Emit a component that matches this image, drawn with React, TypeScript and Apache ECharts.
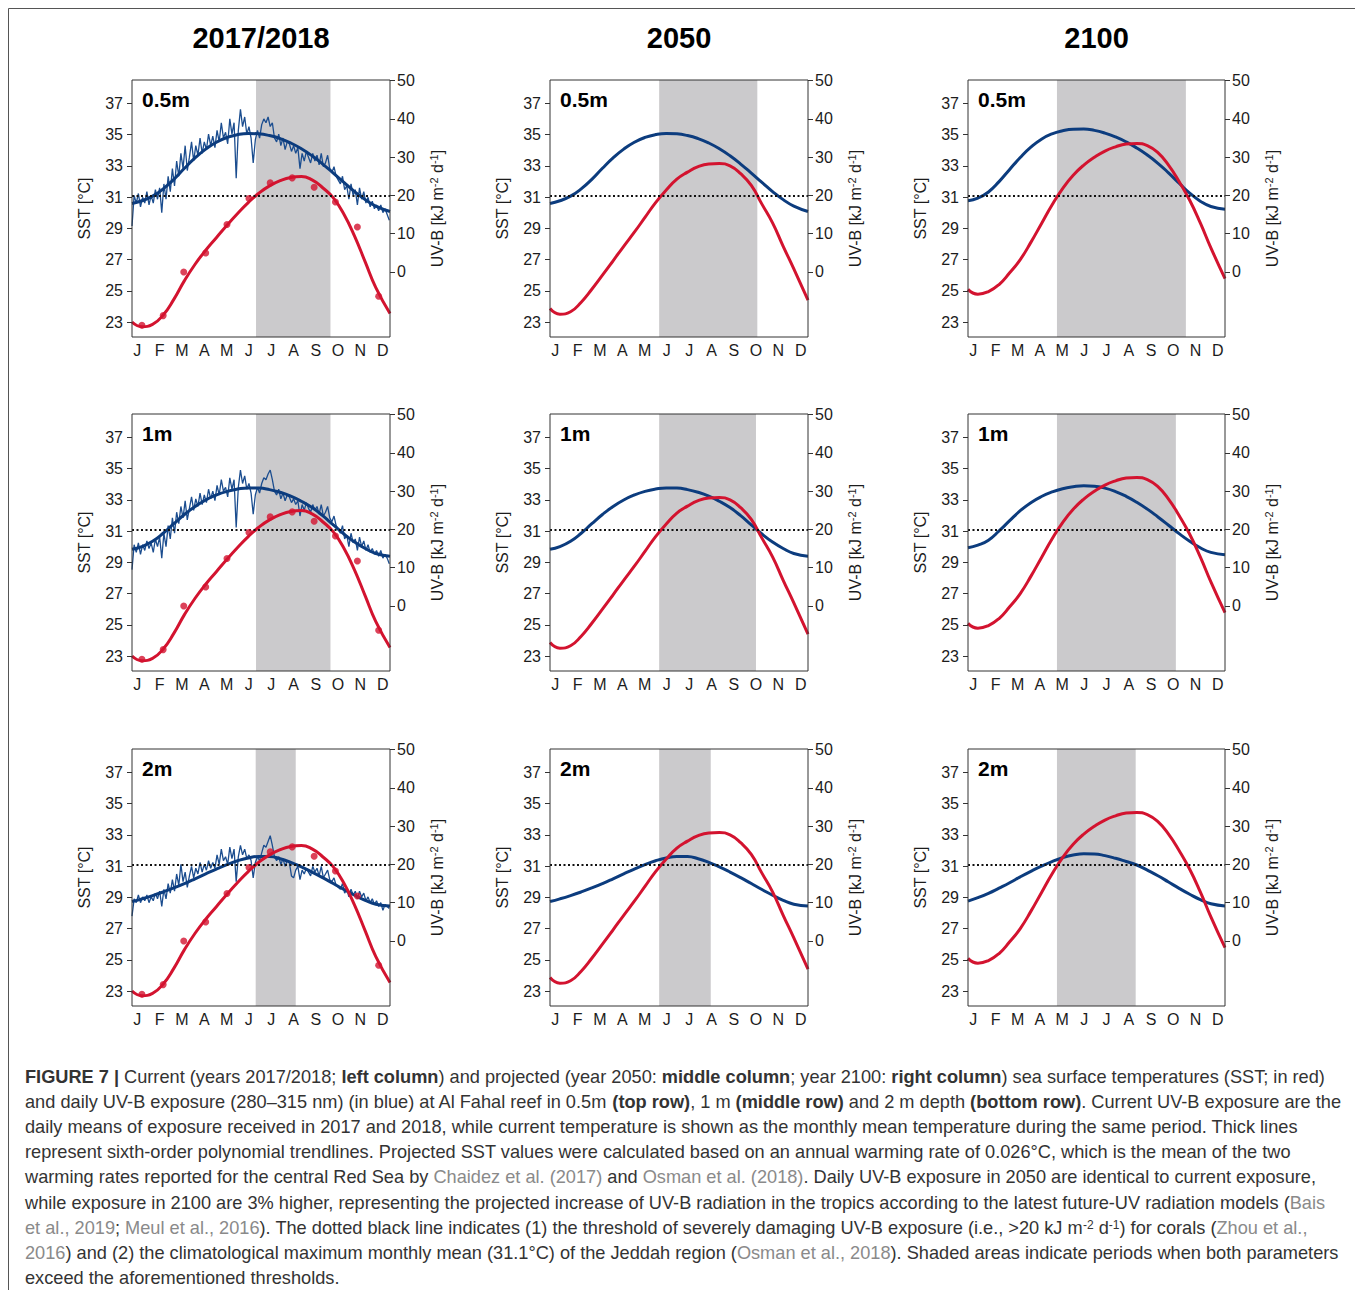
import React, { useEffect, useRef } from 'react';
import * as echarts from 'echarts';

const FONT = '"Liberation Sans", Arial, Helvetica, sans-serif';

// ---------- axes / labels ----------
const MONTH_LABELS = ['J', 'F', 'M', 'A', 'M', 'J', 'J', 'A', 'S', 'O', 'N', 'D'];
const MONTH_TICK_DAYS = [8.5, 40, 71.4, 102.9, 134.4, 165.8, 197.3, 228.8, 260.3, 291.7, 323.2, 354.7];
const SST_TICKS = [23, 25, 27, 29, 31, 33, 35, 37];
const UVB_TICKS = [0, 10, 20, 30, 40, 50];
const SST_THRESHOLD = 31.1;
const COLUMN_TITLES = ['2017/2018', '2050', '2100'];
const DEPTHS = ['0.5m', '1m', '2m'];

// ---------- current monthly mean SST (red dots) ----------
const MONTH_MID_DAYS = [15, 45, 74, 105, 135, 166, 196, 227, 258, 288, 319, 349];
const SST_MONTHLY_MEAN = [22.79, 23.41, 26.2, 27.42, 29.24, 30.91, 31.91, 32.23, 31.63, 30.69, 29.09, 24.65];

// ---------- trendline sample days ----------
const CURVE_DAYS = [1, 15, 30, 45, 60, 75, 90, 105, 120, 135, 150, 165, 180, 195, 210, 225, 240, 255, 270, 285, 300, 315, 330, 345, 365];

// ---------- SST trendlines (red) ----------
const SST_CURRENT = [23.0, 22.7, 22.85, 23.45, 24.45, 25.65, 26.7, 27.6, 28.4, 29.2, 29.95, 30.65, 31.25, 31.72, 32.05, 32.26, 32.32, 32.1, 31.6, 30.95, 29.9, 28.5, 26.85, 25.2, 23.55];
const SST_2050 = [23.86, 23.5, 23.66, 24.27, 25.1, 26.0, 26.92, 27.85, 28.75, 29.7, 30.65, 31.45, 32.15, 32.6, 32.95, 33.12, 33.15, 33.0, 32.5, 31.75, 30.55, 29.35, 27.85, 26.4, 24.4];
const SST_2100 = [25.09, 24.78, 24.95, 25.4, 26.15, 27.0, 28.1, 29.3, 30.5, 31.55, 32.4, 33.05, 33.55, 33.95, 34.22, 34.4, 34.44, 34.3, 33.85, 33.05, 32.0, 30.8, 29.35, 27.75, 25.78];

// ---------- UV-B trendlines (blue); 2050 exposure = current ----------
const UV_CUR_05 = [17.9, 18.6, 19.8, 21.7, 24.2, 27.1, 29.8, 32.1, 33.9, 35.15, 35.9, 36.2, 36.1, 35.65, 34.85, 33.7, 32.2, 30.35, 28.2, 25.85, 23.4, 21.0, 18.9, 17.2, 15.8];
const UV_CUR_1 = [14.8, 15.5, 16.9, 19.0, 21.5, 23.9, 26.0, 27.7, 29.0, 29.95, 30.55, 30.85, 30.8, 30.4, 29.7, 28.7, 27.35, 25.7, 23.6, 21.2, 18.8, 16.7, 15.0, 13.7, 13.0];
const UV_CUR_2 = [10.3, 11.0, 11.85, 12.8, 13.85, 15.0, 16.25, 17.55, 18.8, 19.95, 20.95, 21.7, 22.1, 22.05, 21.5, 20.55, 19.35, 18.0, 16.55, 15.0, 13.45, 11.95, 10.6, 9.6, 9.1];
const UV_2100_05 = [18.6, 19.3, 20.9, 23.6, 26.8, 29.9, 32.6, 34.7, 36.1, 36.9, 37.3, 37.35, 37.0, 36.3, 35.3, 34.0, 32.4, 30.55, 28.4, 25.9, 23.2, 20.6, 18.5, 17.1, 16.4];
const UV_2100_1 = [15.2, 15.9, 17.2, 19.6, 22.3, 24.9, 27.0, 28.6, 29.8, 30.65, 31.15, 31.4, 31.3, 30.8, 29.9, 28.65, 27.1, 25.3, 23.25, 21.1, 18.9, 16.9, 15.2, 14.0, 13.4];
const UV_2100_2 = [10.4, 11.3, 12.45, 13.8, 15.2, 16.75, 18.2, 19.55, 20.75, 21.75, 22.45, 22.8, 22.75, 22.3, 21.6, 20.75, 19.85, 18.5, 17.05, 15.4, 13.75, 12.2, 10.8, 9.7, 9.15];

// ---------- daily UV-B 2017/2018 (every 3rd day: day 1, 4, 7 ... 364) ----------
const UV_DAILY_05 = [
  12, 20, 18, 20.5, 17, 19.5, 18, 21, 17.5, 20,
  18, 21.5, 19, 22, 15.5, 23, 19, 25, 21, 27,
  22.5, 29, 25, 31, 27, 33, 26.5, 30, 34, 29,
  33, 30.5, 35, 31, 34, 32, 36, 33, 35.5, 32.5,
  37, 34, 39, 35, 36.5, 33.5, 40, 36, 39, 24.5,
  37, 42.5, 38, 40.5, 36, 38, 35, 28.5, 34.5, 37,
  35, 38.5, 40, 39, 40.5, 38, 39, 35, 34, 36,
  33, 35, 32, 34, 33.5, 31.5, 33, 31, 32.5, 27,
  31, 29, 31.5, 30, 28.5, 31, 29, 30.5, 28, 31,
  27.5, 28.5, 30.5, 27, 26, 27.5, 25, 24, 23, 25,
  21.5, 22.5, 19, 23, 20, 21.5, 17.5, 22, 19, 21,
  18, 19.5, 17, 18.5, 16.5, 17.5, 16, 17.5, 15.5, 16.5,
  15, 13.5,
];
const UV_DAILY_1 = [
  9.5, 16, 14, 16.5, 13.5, 16, 14.5, 17, 15, 16.5,
  14, 17.5, 15.5, 18, 12.5, 19, 15.5, 21, 17.5, 23,
  19, 24.5, 21.5, 26, 23, 27.5, 22.5, 25.5, 28.5, 25,
  28, 26, 29.5, 26.5, 29, 27, 30.5, 28, 30, 27.5,
  31.5, 29, 33, 30, 31, 28.5, 33.5, 30.5, 33, 20.5,
  31, 35.5, 32, 34, 30.5, 32, 29.5, 24, 29, 31,
  29.5, 32, 33.5, 33, 34.5, 35.5, 33, 30, 29, 30.5,
  28, 29.5, 27.5, 29, 28.5, 27, 28, 26.5, 27.5, 23.5,
  26.5, 25, 27, 25.5, 24.5, 26.5, 25, 26, 24, 26.5,
  23.5, 24.5, 26, 23, 22, 23.5, 21, 20, 19, 21,
  17.5, 18.5, 15.5, 19, 16.5, 17.5, 14.5, 18, 15.5, 17,
  14.5, 16, 14, 15, 13.5, 14.5, 13, 14.5, 12.5, 13.5,
  12.5, 11,
];
const UV_DAILY_2 = [
  6.5, 11, 10, 12, 10, 11.5, 10.5, 12, 10, 11.5,
  10.5, 12.5, 11, 13, 9, 13.5, 11, 15, 12.5, 16,
  13, 17.5, 14.5, 20, 15.5, 18, 14, 17, 19.5, 16.5,
  19, 17.5, 20.5, 18, 20, 18.5, 21, 19, 20.5, 19,
  22.5, 20, 24, 21, 22, 20, 24.5, 21.5, 24, 15.5,
  22, 25, 22.5, 24, 21.5, 22.5, 21, 16.5, 20.5, 22,
  21, 23, 25, 24.5, 26, 27.5, 25, 22, 21, 22,
  20, 21.5, 19.5, 21, 20.5, 17, 16.5, 18.5, 19.5, 16,
  18.5, 17.5, 19, 18, 17, 19.5, 18, 19, 17, 19.5,
  16.5, 17.5, 18.5, 16, 15.5, 16.5, 14.5, 14, 13.5, 15,
  12.5, 13.5, 11.5, 13.5, 12, 13, 11, 13, 11.5, 12.5,
  10.5, 11.5, 10, 11, 9.5, 10.5, 9, 10, 8, 9.5,
  9, 8.5,
];

// ---------- shaded periods (day of year) per column, per depth ----------
const SHADE_CURRENT = [[176, 281], [176, 281], [175.5, 232]];
const SHADE_2050 = [[155, 293.5], [155, 291.6], [155, 227.8]];
const SHADE_2100 = [[127, 309.6], [127, 295.4], [127, 238.5]];

// ---------- caption ----------
const CAPTION_LINES = [
  '{b|FIGURE 7 |} Current (years 2017/2018; {b|left column}) and projected (year 2050: {b|middle column}; year 2100: {b|right column}) sea surface temperatures (SST; in red)',
  'and daily UV-B exposure (280–315 nm) (in blue) at Al Fahal reef in 0.5m {b|(top row)}, 1 m {b|(middle row)} and 2 m depth {b|(bottom row)}. Current UV-B exposure are the',
  'daily means of exposure received in 2017 and 2018, while current temperature is shown as the monthly mean temperature during the same period. Thick lines',
  'represent sixth-order polynomial trendlines. Projected SST values were calculated based on an annual warming rate of 0.026°C, which is the mean of the two',
  'warming rates reported for the central Red Sea by {g|Chaidez et al. (2017)} and {g|Osman et al. (2018)}. Daily UV-B exposure in 2050 are identical to current exposure,',
  'while exposure in 2100 are 3% higher, representing the projected increase of UV-B radiation in the tropics according to the latest future-UV radiation models ({g|Bais}',
  '{g|et al., 2019}; {g|Meul et al., 2016}). The dotted black line indicates (1) the threshold of severely damaging UV-B exposure (i.e., >20 kJ m{sup|-2} d{sup|-1}) for corals ({g|Zhou et al.,}',
  '{g|2016}) and (2) the climatological maximum monthly mean (31.1°C) of the Jeddah region ({g|Osman et al., 2018}). Shaded areas indicate periods when both parameters',
  'exceed the aforementioned thresholds.',
];

// ---------- layout ----------
const COL_LEFT = [132, 550, 968];
const COL_W = [258, 258, 257];
const ROW_TOP = [80, 414, 749];
const PANEL_H = 257;
const SST_MIN = 22.04;
const SST_MAX = 38.5;
const UV_MIN = -17.01;
const UV_MAX = 50.17;
const CAPTION_SIZE = 18.2;

const RED = '#d3132f';
const BLUE = '#0c3c7e';
const BLUE_DAILY = '#1b4d8f';
const SHADE = '#cbcacc';
const INK = '#1c1c1c';

const pairs = (xs: number[], ys: number[]) => xs.map((x, i) => [x, ys[i]]);
const DAILY_DAYS = UV_DAILY_05.map((_, i) => 1 + 3 * i);

function buildOption() {
  const grid: any[] = [];
  const xAxis: any[] = [];
  const yAxis: any[] = [];
  const series: any[] = [];
  const graphic: any[] = [];

  const redByCol = [SST_CURRENT, SST_2050, SST_2100];
  const blueByCol = [
    [UV_CUR_05, UV_CUR_1, UV_CUR_2],
    [UV_CUR_05, UV_CUR_1, UV_CUR_2],
    [UV_2100_05, UV_2100_1, UV_2100_2],
  ];
  const dailyByRow = [UV_DAILY_05, UV_DAILY_1, UV_DAILY_2];
  const shadeByCol = [SHADE_CURRENT, SHADE_2050, SHADE_2100];

  for (let r = 0; r < 3; r++) {
    for (let c = 0; c < 3; c++) {
      const g = r * 3 + c;
      grid.push({ left: COL_LEFT[c], top: ROW_TOP[r], width: COL_W[c], height: PANEL_H });
      xAxis.push({
        gridIndex: g,
        type: 'value',
        min: 1,
        max: 365,
        axisLine: { show: false },
        axisTick: { show: false },
        splitLine: { show: false },
        axisLabel: {
          customValues: MONTH_TICK_DAYS,
          formatter: (v: number) => {
            const i = MONTH_TICK_DAYS.findIndex((d) => Math.abs(d - v) < 0.01);
            return i >= 0 ? MONTH_LABELS[i] : '';
          },
          margin: 5,
          fontSize: 16,
          color: INK,
          fontFamily: FONT,
        },
      });
      yAxis.push({
        gridIndex: g,
        type: 'value',
        position: 'left',
        min: SST_MIN,
        max: SST_MAX,
        name: 'SST [°C]',
        nameLocation: 'middle',
        nameRotate: 90,
        nameGap: 40,
        nameTextStyle: { fontSize: 16, color: INK, fontFamily: FONT },
        axisLine: { show: false },
        splitLine: { show: false },
        axisTick: { show: true, length: 5, customValues: SST_TICKS, lineStyle: { color: '#333', width: 1 } },
        axisLabel: { customValues: SST_TICKS, margin: 9, fontSize: 16, color: INK, fontFamily: FONT },
      });
      yAxis.push({
        gridIndex: g,
        type: 'value',
        position: 'right',
        min: UV_MIN,
        max: UV_MAX,
        name: '{n|UV-B [kJ m}{s|-2}{n| d}{s|-1}{n|]}',
        nameLocation: 'middle',
        nameRotate: 90,
        nameGap: 38,
        nameTextStyle: {
          fontSize: 16,
          color: INK,
          fontFamily: FONT,
          rich: {
            n: { fontSize: 16, color: INK, fontFamily: FONT, lineHeight: 18 },
            s: { fontSize: 11, color: INK, fontFamily: FONT, verticalAlign: 'top', lineHeight: 18 },
          },
        },
        axisLine: { show: false },
        splitLine: { show: false },
        axisTick: { show: true, length: 5, customValues: UVB_TICKS, lineStyle: { color: '#333', width: 1 } },
        axisLabel: { customValues: UVB_TICKS, margin: 7, fontSize: 16, color: INK, fontFamily: FONT },
      });

      const shade = shadeByCol[c][r];
      const markArea = {
        silent: true,
        itemStyle: { color: SHADE },
        data: [[{ xAxis: shade[0] }, { xAxis: shade[1] }]],
      };

      if (c === 0) {
        series.push({
          type: 'line',
          xAxisIndex: g,
          yAxisIndex: 2 * g + 1,
          data: pairs(DAILY_DAYS, dailyByRow[r]),
          showSymbol: false,
          silent: true,
          lineStyle: { width: 1.3, color: BLUE_DAILY },
          markArea,
        });
      }
      series.push({
        type: 'line',
        xAxisIndex: g,
        yAxisIndex: 2 * g + 1,
        data: pairs(CURVE_DAYS, blueByCol[c][r]),
        smooth: 0.5,
        showSymbol: false,
        silent: true,
        lineStyle: { width: 3, color: BLUE },
        ...(c === 0 ? {} : { markArea }),
      });
      series.push({
        type: 'line',
        xAxisIndex: g,
        yAxisIndex: 2 * g,
        data: pairs(CURVE_DAYS, redByCol[c]),
        smooth: 0.5,
        showSymbol: false,
        silent: true,
        lineStyle: { width: 3, color: RED },
        markLine: {
          silent: true,
          symbol: ['none', 'none'],
          label: { show: false },
          lineStyle: { type: [2, 2.5], color: '#111', width: 1.8 },
          data: [{ yAxis: SST_THRESHOLD }],
        },
      });
      if (c === 0) {
        series.push({
          type: 'scatter',
          xAxisIndex: g,
          yAxisIndex: 2 * g,
          data: pairs(MONTH_MID_DAYS, SST_MONTHLY_MEAN),
          symbolSize: 7,
          silent: true,
          itemStyle: { color: RED },
          z: 6,
        });
      }

      graphic.push({
        type: 'rect',
        shape: { x: COL_LEFT[c], y: ROW_TOP[r], width: COL_W[c], height: PANEL_H },
        style: { fill: 'none', stroke: '#333', lineWidth: 1 },
        silent: true,
        z: 100,
      });
      graphic.push({
        type: 'text',
        x: COL_LEFT[c] + 10,
        y: ROW_TOP[r] + 19,
        silent: true,
        z: 100,
        style: {
          text: DEPTHS[r],
          fontSize: 21,
          fontWeight: 'bold',
          fontFamily: FONT,
          fill: '#000',
          align: 'left',
          textAlign: 'left',
          verticalAlign: 'middle',
          textVerticalAlign: 'middle',
        },
      });
    }
  }

  COLUMN_TITLES.forEach((t, c) => {
    graphic.push({
      type: 'text',
      x: COL_LEFT[c] + COL_W[c] / 2,
      y: 38,
      silent: true,
      style: {
        text: t,
        fontSize: 29,
        fontWeight: 'bold',
        fontFamily: FONT,
        fill: '#000',
        align: 'center',
        textAlign: 'center',
        verticalAlign: 'middle',
        textVerticalAlign: 'middle',
      },
    });
  });

  graphic.push({
    type: 'rect',
    shape: { x: 8.5, y: 8.5, width: 1400, height: 1400 },
    style: { fill: 'none', stroke: '#555', lineWidth: 1 },
    silent: true,
  });

  CAPTION_LINES.forEach((line, i) => {
    graphic.push({
      type: 'text',
      x: 25,
      y: 1077 + 25.1 * i,
      silent: true,
      style: {
        text: line,
        fontSize: CAPTION_SIZE,
        fontFamily: FONT,
        fill: '#333',
        align: 'left',
        textAlign: 'left',
        verticalAlign: 'middle',
        textVerticalAlign: 'middle',
        rich: {
          b: { fontSize: CAPTION_SIZE, fontFamily: FONT, fontWeight: 'bold', fill: '#333', color: '#333' },
          g: { fontSize: CAPTION_SIZE, fontFamily: FONT, fill: '#8a8a8a', color: '#8a8a8a' },
          sup: { fontSize: 12, fontFamily: FONT, fill: '#333', color: '#333', verticalAlign: 'top' },
        },
      },
    });
  });

  return {
    animation: false,
    backgroundColor: '#fff',
    textStyle: { fontFamily: FONT },
    grid,
    xAxis,
    yAxis,
    series,
    graphic,
  };
}

export default function App() {
  const ref = useRef<HTMLDivElement>(null);
  useEffect(() => {
    if (!ref.current) return;
    const chart = echarts.init(ref.current, null, { renderer: 'svg' });
    chart.setOption(buildOption() as any);
    return () => chart.dispose();
  }, []);
  return (
    <div
      ref={ref}
      style={{ position: 'absolute', left: 0, top: 0, width: 1355, height: 1290, background: '#fff' }}
    />
  );
}
